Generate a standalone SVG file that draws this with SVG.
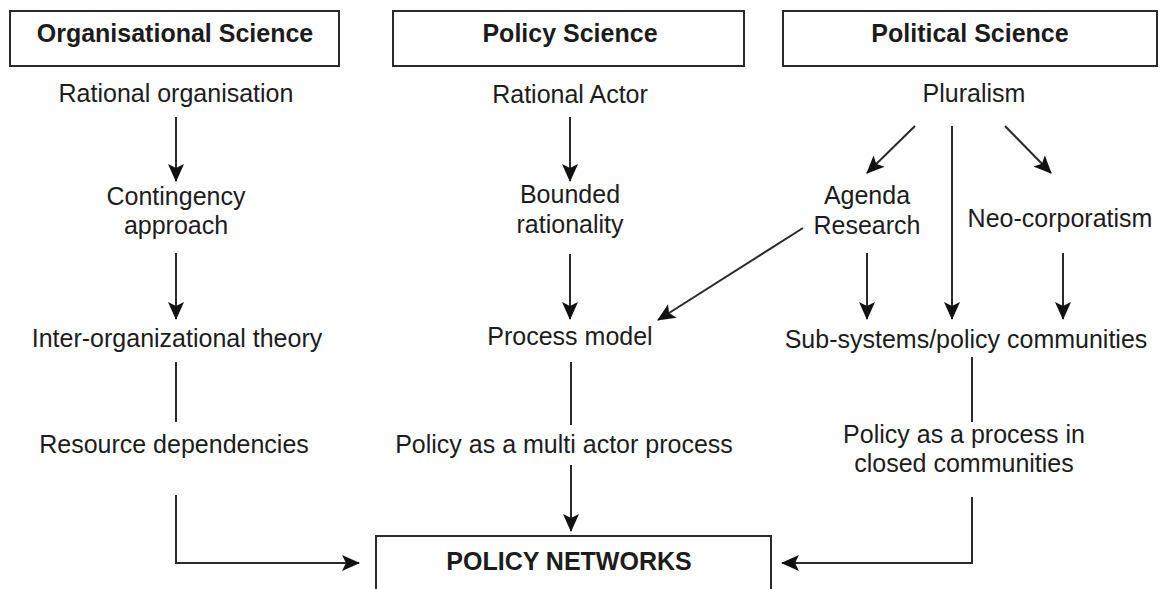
<svg xmlns="http://www.w3.org/2000/svg" width="1166" height="589" viewBox="0 0 1166 589">
<style>
text{font-family:"Liberation Sans",Arial,sans-serif;font-size:25px;fill:#1c1c1c;text-anchor:middle}
.h{font-weight:bold}
.box{fill:#fff;stroke:#2a2a2a;stroke-width:2}
.c{fill:none;stroke:#2a2a2a;stroke-width:2}
.a{marker-end:url(#ah)}
</style>
<defs>
<marker id="ah" markerUnits="userSpaceOnUse" markerWidth="20" markerHeight="18" refX="17" refY="8" orient="auto" viewBox="0 0 20 18">
<path d="M0,0 L18,8 L0,16 L4,8 z" fill="#111"/>
</marker>
</defs>
<rect width="1166" height="589" fill="#fff"/>
<g id="org-science"><rect class="box" x="10" y="11" width="329" height="55"/><text class="h" x="175" y="42">Organisational Science</text></g>
<g id="policy-science"><rect class="box" x="393" y="11" width="351" height="55"/><text class="h" x="570" y="42">Policy Science</text></g>
<g id="political-science"><rect class="box" x="783" y="11" width="374" height="55"/><text class="h" x="970" y="42">Political Science</text></g>
<g id="rational-organisation"><text x="176" y="102">Rational organisation</text></g>
<g id="contingency"><text x="176" y="205">Contingency</text><text x="176" y="234">approach</text></g>
<g id="inter-org"><text x="177" y="347">Inter-organizational theory</text></g>
<g id="resource-dep"><text x="174" y="453">Resource dependencies</text></g>
<g id="rational-actor"><text x="570" y="103">Rational Actor</text></g>
<g id="bounded"><text x="570" y="203">Bounded</text><text x="570" y="233">rationality</text></g>
<g id="process-model"><text x="570" y="345">Process model</text></g>
<g id="multi-actor"><text x="564" y="453">Policy as a multi actor process</text></g>
<g id="pluralism"><text x="974" y="102">Pluralism</text></g>
<g id="agenda"><text x="867" y="204">Agenda</text><text x="867" y="234">Research</text></g>
<g id="neo-corp"><text x="1060" y="227">Neo-corporatism</text></g>
<g id="sub-systems"><text x="966" y="348">Sub-systems/policy communities</text></g>
<g id="closed-comm"><text x="964" y="443">Policy as a process in</text><text x="964" y="472">closed communities</text></g>
<g id="policy-networks"><rect class="box" x="376" y="536" width="395" height="70"/><text class="h" x="569" y="570">POLICY NETWORKS</text></g>
<g id="connectors">
<line class="c a" x1="176" y1="117" x2="176" y2="181"/>
<line class="c a" x1="176" y1="253" x2="176" y2="319"/>
<line class="c" x1="176" y1="362" x2="176" y2="422"/>
<polyline class="c a" points="176,495 176,563 359,563"/>
<line class="c a" x1="570" y1="117" x2="570" y2="181"/>
<line class="c a" x1="570" y1="254" x2="570" y2="319"/>
<line class="c" x1="571" y1="362" x2="571" y2="425"/>
<line class="c a" x1="571" y1="465" x2="571" y2="531"/>
<line class="c a" x1="915" y1="126" x2="867" y2="173"/>
<line class="c a" x1="952" y1="126" x2="952" y2="319"/>
<line class="c a" x1="1005" y1="126" x2="1051" y2="173"/>
<line class="c a" x1="803" y1="228" x2="658" y2="320"/>
<line class="c a" x1="867" y1="253" x2="867" y2="319"/>
<line class="c a" x1="1063" y1="253" x2="1063" y2="319"/>
<line class="c" x1="972" y1="357" x2="972" y2="422"/>
<polyline class="c a" points="972,497 972,563 782,563"/>
</g>
</svg>
